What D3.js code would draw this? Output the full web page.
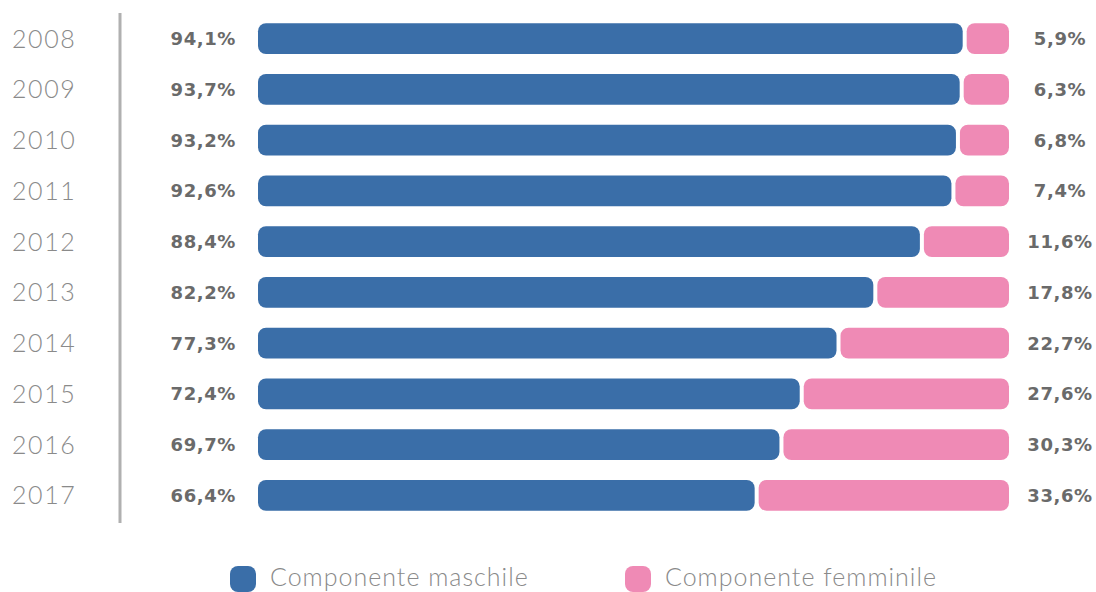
<!DOCTYPE html>
<html>
<head>
<meta charset="utf-8">
<script src="https://cdn.jsdelivr.net/npm/d3@7"></script>
<style>
  html, body { margin: 0; padding: 0; background: #fff; }
  svg { display: block; }
</style>
</head>
<body>
<svg id="chart" width="1096" height="592"></svg>
<script>
// Share of male / female component per year (%)
const years = ["2008", "2009", "2010", "2011", "2012", "2013", "2014", "2015", "2016", "2017"];
const maschile = [94.1, 93.7, 93.2, 92.6, 88.4, 82.2, 77.3, 72.4, 69.7, 66.4];
const femminile = [5.9, 6.3, 6.8, 7.4, 11.6, 17.8, 22.7, 27.6, 30.3, 33.6];
const seriesNames = ["Componente maschile", "Componente femminile"];
const colors = ["#3a6ea8", "#ef8ab5"];

const svg = d3.select("#chart");
const fmt = v => v.toFixed(1).replace(".", ",") + "%";

const x = d3.scaleLinear().domain([0, 100]).range([258, 1009]);
const y = d3.scaleBand().domain(years).range([13, 521]).paddingInner(0.39).paddingOuter(0.2);
const gap = 2;
const r = 8;

const rows = years.map((yr, i) => ({ yr, m: maschile[i], f: femminile[i] }));

// Year labels
svg.append("g").selectAll("text").data(rows).join("text")
  .attr("x", 12).attr("y", d => y(d.yr) + y.bandwidth() / 2)
  .attr("dy", "0.36em")
  .attr("font-family", "Lato, 'Open Sans', sans-serif")
  .attr("font-weight", 300)
  .attr("font-size", 25)
  .attr("letter-spacing", 1.6)
  .attr("fill", "#8a8a8a")
  .text(d => d.yr);

// Vertical separator
svg.append("line")
  .attr("x1", 120).attr("x2", 120).attr("y1", 13).attr("y2", 523)
  .attr("stroke", "#b0b0b0").attr("stroke-width", 3);

// Male bars
svg.append("g").selectAll("rect").data(rows).join("rect")
  .attr("x", x(0))
  .attr("y", d => y(d.yr))
  .attr("width", d => x(d.m) - x(0) - gap)
  .attr("height", y.bandwidth())
  .attr("rx", r).attr("ry", r)
  .attr("fill", colors[0]);

// Female bars
svg.append("g").selectAll("rect").data(rows).join("rect")
  .attr("x", d => x(d.m) + gap)
  .attr("y", d => y(d.yr))
  .attr("width", d => x(100) - x(d.m) - gap)
  .attr("height", y.bandwidth())
  .attr("rx", r).attr("ry", r)
  .attr("fill", colors[1]);

// Value labels
const labelFont = "'DejaVu Sans', sans-serif";
svg.append("g").selectAll("text").data(rows).join("text")
  .attr("x", 236).attr("y", d => y(d.yr) + y.bandwidth() / 2)
  .attr("dy", "0.36em").attr("text-anchor", "end")
  .attr("font-family", labelFont).attr("font-weight", "bold")
  .attr("font-size", 18).attr("letter-spacing", 0.6).attr("fill", "#6a6a6a")
  .text(d => fmt(d.m));

svg.append("g").selectAll("text").data(rows).join("text")
  .attr("x", 1060).attr("y", d => y(d.yr) + y.bandwidth() / 2)
  .attr("dy", "0.36em").attr("text-anchor", "middle")
  .attr("font-family", labelFont).attr("font-weight", "bold")
  .attr("font-size", 18).attr("letter-spacing", 0.6).attr("fill", "#6a6a6a")
  .text(d => fmt(d.f));

// Legend
const legend = svg.append("g").selectAll("g").data(seriesNames).join("g")
  .attr("transform", (d, i) => `translate(${[230, 625][i]},566)`);
legend.append("rect")
  .attr("width", 26).attr("height", 26).attr("rx", 8).attr("ry", 8)
  .attr("fill", (d, i) => colors[i]);
legend.append("text")
  .attr("x", 40).attr("y", 11).attr("dy", "0.36em")
  .attr("font-family", "Lato, 'Open Sans', sans-serif")
  .attr("font-weight", 300)
  .attr("font-size", 25).attr("letter-spacing", 1.0).attr("fill", "#8a8a8a")
  .text(d => d);
</script>
</body>
</html>
